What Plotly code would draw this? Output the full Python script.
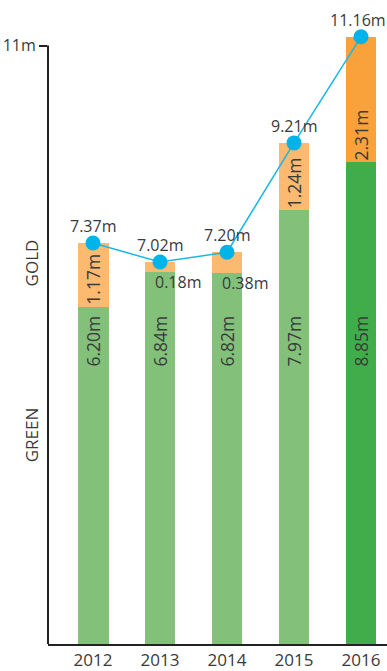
import plotly.graph_objects as go

years = ["2012", "2013", "2014", "2015", "2016"]
green = [6.20, 6.84, 6.82, 7.97, 8.85]
gold = [1.17, 0.18, 0.38, 1.24, 2.31]
totals = [7.37, 7.02, 7.20, 9.21, 11.16]
green_colors = ["#83C17B", "#83C17B", "#83C17B", "#83C17B", "#41AD4A"]
gold_colors = ["#FCB970", "#FCB970", "#FCB970", "#FCB970", "#F9A13B"]

FONT = "Open Sans"
TXT = "#3a3a3a"
AXIS = "#222222"

xpos = list(range(len(years)))

fig = go.Figure()

fig.add_trace(go.Bar(
    x=xpos, y=green, marker=dict(color=green_colors, line=dict(width=0)),
    width=0.462, hoverinfo="skip",
))
fig.add_trace(go.Bar(
    x=xpos, y=gold, marker=dict(color=gold_colors, line=dict(width=0)),
    width=0.462, hoverinfo="skip",
))
fig.add_trace(go.Scatter(
    x=xpos, y=totals, mode="lines+markers",
    line=dict(color="#1AB6E8", width=1.5),
    marker=dict(color="#00B4E9", size=15),
    hoverinfo="skip",
))

annotations = []
last = len(xpos) - 1
for xi, g, o, t in zip(xpos, green, gold, totals):
    # total above each point (the last one nudged in from the right edge)
    annotations.append(dict(x=xi, y=t, text=f"{t:.2f}m", showarrow=False,
                            yshift=17, xshift=-3 if xi == last else 0,
                            font=dict(size=16, color=TXT, family=FONT)))
    # green share, rotated, at a common height
    annotations.append(dict(x=xi, y=5.56, text=f"{g:.2f}m", showarrow=False,
                            textangle=-90, font=dict(size=17.5, color=TXT, family=FONT)))
    if o >= 1:
        annotations.append(dict(x=xi, y=g, text=f"{o:.2f}m", showarrow=False,
                                textangle=-90, yshift=27,
                                font=dict(size=17.5, color=TXT, family=FONT)))
    else:
        annotations.append(dict(x=xi, y=g, text=f"{o:.2f}m", showarrow=False,
                                xanchor="left", xshift=-7, yshift=-10,
                                font=dict(size=16, color=TXT, family=FONT)))

for label, py in [("GOLD", 0.591), ("GREEN", 0.324)]:
    annotations.append(dict(xref="paper", yref="paper", x=0, y=py, xshift=-17,
                            xanchor="center", yanchor="middle",
                            text=label, showarrow=False, textangle=-90,
                            font=dict(size=17, color=TXT, family=FONT)))

fig.update_layout(
    width=387, height=671,
    margin=dict(l=48, r=0, t=0, b=20),
    barmode="stack",
    showlegend=False,
    plot_bgcolor="white",
    paper_bgcolor="white",
    annotations=annotations,
    xaxis=dict(
        range=[-0.672, 4.388],
        tickvals=xpos, ticktext=years,
        showgrid=False, zeroline=False,
        showline=True, linecolor=AXIS, linewidth=2,
        ticks="", tickfont=dict(size=17, color=TXT, family=FONT),
        fixedrange=True,
    ),
    yaxis=dict(
        range=[0, 651 / 55], showgrid=False, zeroline=False, showline=False,
        tickvals=[11], ticktext=["11m"], ticks="outside", ticklen=8,
        tickwidth=2, tickcolor=AXIS,
        tickfont=dict(size=16, color=TXT, family=FONT),
        fixedrange=True,
    ),
    shapes=[dict(type="line", xref="paper", yref="y", x0=0, x1=0, y0=0, y1=11,
                 line=dict(color=AXIS, width=2))],
)

fig.write_html("out.html", config={"displayModeBar": False})
